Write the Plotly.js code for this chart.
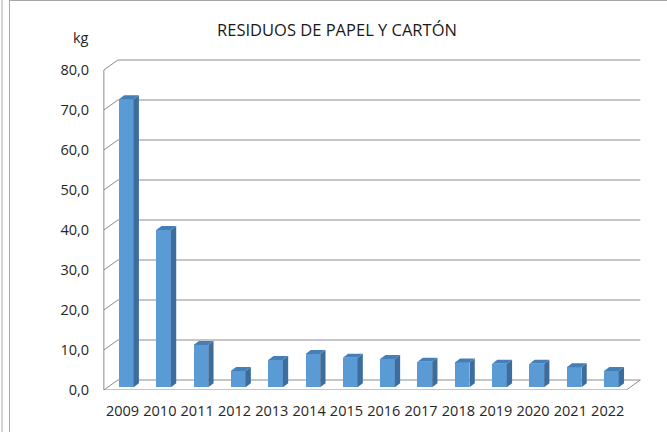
<!DOCTYPE html>
<html>
<head>
<meta charset="utf-8">
<script src="https://cdn.plot.ly/plotly-3.0.1.min.js"></script>
<style>html,body{margin:0;padding:0;background:#fff;}#chart{width:667px;height:432px;}</style>
</head>
<body>
<div id="chart"></div>
<script>
// ---- data ----
const years = ['2009','2010','2011','2012','2013','2014','2015','2016','2017','2018','2019','2020','2021','2022'];
const values = [72.0, 39.3, 10.6, 4.1, 6.8, 8.3, 7.4, 7.1, 6.4, 6.2, 5.9, 5.9, 5.0, 4.1];
const yTicks = [0, 10, 20, 30, 40, 50, 60, 70, 80];
const chartTitle = 'RESIDUOS DE PAPEL Y CARTÓN';
const unitLabel = 'kg';

// ---- 3D styling constants (in axis units) ----
const DX = 0.375, DY = 2.5;          // wall depth offset
const BAR_DX = 0.1, BAR_BASE = 0.68; // bar depth position
const BAR_W = 0.394;
const SX = 0.142, SY = 1.0;          // bar side depth
const X0 = -0.5, XEND = years.length - 0.5;
const gridColor = '#8c8c8c';

const xs = years.map((_, i) => i);

// front faces
const frontTrace = {
  type: 'bar', x: xs.map(i => i + BAR_DX), y: values, base: values.map(() => BAR_BASE),
  width: BAR_W, marker: {color: '#5B9BD5', line: {width: 0}}, hoverinfo: 'skip', showlegend: false
};
// side + top faces
const sideX = [], sideY = [], topX = [], topY = [];
values.forEach((v, i) => {
  const xl = i + BAR_DX - BAR_W / 2, xr = i + BAR_DX + BAR_W / 2;
  const yb = BAR_BASE, yt = BAR_BASE + v;
  sideX.push(xr, xr + SX, xr + SX, xr, xr, null);
  sideY.push(yb, yb + SY, yt + SY, yt, yb, null);
  topX.push(xl, xl + SX, xr + SX, xr, xl, null);
  topY.push(yt, yt + SY, yt + SY, yt, yt, null);
});
const sideTrace = {type: 'scatter', mode: 'lines', x: sideX, y: sideY, fill: 'toself',
  fillcolor: '#3C6D9C', line: {width: 0, color: '#3C6D9C'}, hoverinfo: 'skip', showlegend: false};
const topTrace = {type: 'scatter', mode: 'lines', x: topX, y: topY, fill: 'toself',
  fillcolor: '#467FB6', line: {width: 0, color: '#467FB6'}, hoverinfo: 'skip', showlegend: false};

// walls / gridlines
const shapes = [];
const ln = (x0, y0, x1, y1) => ({type: 'line', xref: 'x', yref: 'y', x0, y0, x1, y1,
  line: {color: gridColor, width: 1}, layer: 'below'});
yTicks.forEach(t => {
  shapes.push(ln(X0, t, X0 + DX, t + DY));
  shapes.push(ln(X0 + DX, t + DY, XEND + DX, t + DY));
});
shapes.push(ln(X0, 0, X0, yTicks[yTicks.length - 1]));
shapes.push(ln(X0, 0, XEND, 0));
shapes.push(ln(XEND, 0, XEND + DX, DY));

// outer border lines (screenshot frame)
const L = 102, W = 540, B = 390, H = 332;
const px = p => (p - L) / W, py = p => (B - p) / H;
const frame = (x0, y0, x1, y1) => ({type: 'line', xref: 'paper', yref: 'paper',
  x0: px(x0), y0: py(y0), x1: px(x1), y1: py(y1), line: {color: '#a6a6a6', width: 1}});
shapes.push(frame(2, 0, 2, 432));
shapes.push(frame(9.5, 0, 9.5, 432));
shapes.push(frame(9.5, 0.5, 667, 0.5));

const layout = {
  width: 667, height: 432,
  margin: {l: L, r: 667 - L - W, t: B - H, b: 432 - B, pad: 0},
  paper_bgcolor: '#fff', plot_bgcolor: 'rgba(0,0,0,0)',
  separators: ',.',
  font: {family: 'Open Sans, sans-serif', size: 14.5, color: '#262626'},
  title: {text: chartTitle, x: 337 / 667, xref: 'container', xanchor: 'center',
    y: 1 - 30 / 432, yref: 'container', yanchor: 'middle',
    font: {family: 'Open Sans, sans-serif', size: 16.5, color: '#1a1a1a'}},
  xaxis: {range: [-0.55, 13.92], tickmode: 'array', tickvals: xs, ticktext: years,
    showgrid: false, zeroline: false, showline: false, ticks: 'outside', ticklen: 8,
    tickcolor: 'rgba(0,0,0,0)', tickfont: {size: 14.5}, fixedrange: true},
  yaxis: {range: [0, 83], tickmode: 'array', tickvals: yTicks, tickformat: '.1f',
    showgrid: false, zeroline: false, showline: false, ticks: 'outside', ticklen: 9,
    tickcolor: 'rgba(0,0,0,0)', tickfont: {size: 14.5}, fixedrange: true},
  bargap: 0,
  shapes: shapes,
  annotations: [{text: unitLabel, xref: 'paper', yref: 'paper', x: px(81), y: py(37),
    xanchor: 'center', yanchor: 'middle', showarrow: false, font: {size: 14.5}}]
};

Plotly.newPlot('chart', [frontTrace, sideTrace, topTrace], layout, {staticPlot: true, displayModeBar: false});
</script>
</body>
</html>
